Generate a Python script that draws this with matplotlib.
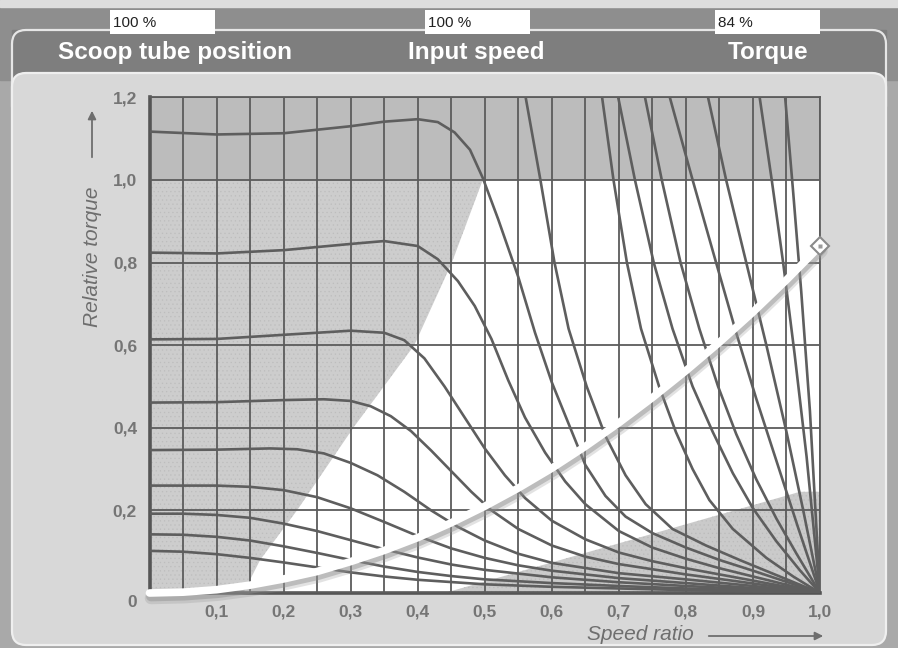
import numpy as np
import matplotlib
matplotlib.use("Agg")
import matplotlib.pyplot as plt
import matplotlib.transforms as mtransforms
from matplotlib.patches import Rectangle, FancyBboxPatch, Polygon

# header read-outs
header_labels = ["Scoop tube position", "Input speed", "Torque"]
header_values = ["100 %", "100 %", "84 %"]

x_ticks = [0.1, 0.2, 0.3, 0.4, 0.5, 0.6, 0.7, 0.8, 0.9, 1.0]
x_tick_labels = ["0,1", "0,2", "0,3", "0,4", "0,5", "0,6", "0,7", "0,8", "0,9", "1,0"]
y_ticks = [0, 0.2, 0.4, 0.6, 0.8, 1.0, 1.2]
y_tick_labels = ["0", "0,2", "0,4", "0,6", "0,8", "1,0", "1,2"]

# torque curves starting on the torque axis (low scoop fillings)
plateau_x = [
    [0, .1, .2, .3, .35, .40, .43, .455, .478, .497, .52, .55, .575, .60, .625, .65, .68, .71, .75, .80, .85, .90, .95, 1.0],
    [0, .1, .2, .3, .35, .40, .43, .46, .485, .51, .535, .56, .59, .62, .65, .70, .75, .80, .85, .90, .95, 1.0],
    [0, .1, .2, .3, .35, .38, .41, .44, .47, .50, .53, .56, .60, .65, .70, .75, .80, .85, .90, .95, 1.0],
    [0, .1, .2, .26, .30, .33, .36, .39, .42, .45, .48, .51, .55, .60, .65, .70, .80, .90, .95, 1.0],
    [0, .1, .18, .22, .26, .30, .34, .38, .42, .46, .50, .55, .60, .70, .80, .90, 1.0],
    [0, .1, .15, .2, .25, .30, .35, .40, .45, .50, .55, .60, .70, .80, .90, 1.0],
    [0, .05, .1, .15, .2, .25, .30, .35, .40, .45, .50, .60, .70, .80, .90, 1.0],
    [0, .05, .1, .15, .2, .25, .30, .35, .40, .45, .50, .60, .70, .80, .90, 1.0],
    [0, .05, .1, .15, .2, .25, .30, .35, .40, .50, .60, .70, .80, .90, 1.0],
]
plateau_y = [
    [1.117, 1.110, 1.113, 1.130, 1.141, 1.147, 1.140, 1.115, 1.073, 1.005, 0.905, 0.765, 0.63, 0.51, 0.41, 0.31, 0.235, 0.185, 0.145, 0.11, 0.08, 0.054, 0.027, 0],
    [0.824, 0.822, 0.830, 0.845, 0.852, 0.840, 0.808, 0.755, 0.695, 0.615, 0.515, 0.425, 0.34, 0.27, 0.215, 0.15, 0.11, 0.083, 0.06, 0.04, 0.02, 0],
    [0.614, 0.615, 0.625, 0.635, 0.630, 0.612, 0.568, 0.50, 0.425, 0.35, 0.285, 0.23, 0.175, 0.13, 0.098, 0.077, 0.06, 0.045, 0.03, 0.015, 0],
    [0.461, 0.462, 0.467, 0.469, 0.465, 0.452, 0.428, 0.392, 0.345, 0.295, 0.245, 0.20, 0.155, 0.115, 0.088, 0.07, 0.045, 0.023, 0.012, 0],
    [0.346, 0.347, 0.350, 0.348, 0.338, 0.315, 0.285, 0.245, 0.20, 0.16, 0.127, 0.095, 0.073, 0.048, 0.033, 0.017, 0],
    [0.260, 0.260, 0.257, 0.249, 0.232, 0.205, 0.172, 0.138, 0.108, 0.085, 0.067, 0.054, 0.036, 0.024, 0.012, 0],
    [0.192, 0.192, 0.189, 0.182, 0.168, 0.150, 0.128, 0.106, 0.086, 0.069, 0.056, 0.038, 0.026, 0.017, 0.009, 0],
    [0.142, 0.141, 0.136, 0.127, 0.113, 0.097, 0.080, 0.064, 0.051, 0.041, 0.033, 0.024, 0.017, 0.011, 0.006, 0],
    [0.102, 0.100, 0.094, 0.085, 0.074, 0.062, 0.050, 0.040, 0.032, 0.021, 0.015, 0.011, 0.007, 0.004, 0],
]

# torque curves coming in over the top of the chart (high scoop fillings)
steep_x = [
    [0.561, 0.583, 0.604, 0.625, 0.652, 0.68, 0.71, 0.74, 0.78, 0.83, 0.88, 0.94, 1.0],
    [0.675, 0.692, 0.712, 0.733, 0.76, 0.785, 0.81, 0.835, 0.87, 0.92, 0.96, 1.0],
    [0.699, 0.724, 0.752, 0.78, 0.81, 0.84, 0.87, 0.90, 0.935, 0.97, 1.0],
    [0.739, 0.764, 0.792, 0.82, 0.848, 0.875, 0.905, 0.935, 0.965, 1.0],
    [0.776, 0.81, 0.845, 0.875, 0.905, 0.935, 0.967, 1.0],
    [0.833, 0.86, 0.89, 0.92, 0.95, 0.975, 1.0],
    [0.91, 0.928, 0.945, 0.962, 0.98, 1.0],
    [0.948, 0.96, 0.972, 0.985, 1.0],
]
steep_y = [
    [1.2, 1.0, 0.8, 0.64, 0.5, 0.38, 0.285, 0.215, 0.155, 0.115, 0.08, 0.04, 0],
    [1.2, 1.0, 0.8, 0.64, 0.5, 0.39, 0.30, 0.225, 0.155, 0.085, 0.04, 0],
    [1.2, 1.0, 0.8, 0.64, 0.5, 0.39, 0.29, 0.205, 0.125, 0.055, 0],
    [1.2, 1.0, 0.8, 0.64, 0.5, 0.385, 0.275, 0.18, 0.095, 0],
    [1.2, 1.0, 0.8, 0.63, 0.47, 0.32, 0.16, 0],
    [1.2, 1.0, 0.8, 0.6, 0.39, 0.2, 0],
    [1.2, 1.0, 0.8, 0.58, 0.33, 0],
    [1.2, 0.97, 0.73, 0.44, 0],
]

# load (machine) curve and current operating point
load_x = [0, .05, .1, .15, .2, .25, .3, .35, .4, .45, .5, .55, .6, .65, .7, .75, .8, .85, .9, .95, 1.0]
load_y = [0, .002, .008, .019, .034, .052, .076, .103, .134, .170, .210, .254, .302, .355, .412, .473, .538, .607, .680, .758, .840]
op_x, op_y = 1.0, 0.84

# shaded zones
left_zone_x = [0, 0, 0.497, 0.451, 0.395, 0.304, 0.22, 0.165, 0.14]
left_zone_y = [0, 1.0, 1.0, 0.8, 0.6, 0.4, 0.2, 0.08, 0]
right_zone_x = [0.44, 0.97, 1.0, 1.0]
right_zone_y = [0, 0.245, 0.245, 0]

W, H = 898, 648
plt.rcParams["hatch.linewidth"] = 0.4
fig = plt.figure(figsize=(W / 100, H / 100), dpi=100)
fig.patch.set_facecolor("#a9a9a9")

# background, header and panel drawn in pixel coordinates
bg = fig.add_axes([0, 0, 1, 1])
bg.set_xlim(0, W)
bg.set_ylim(H, 0)
bg.axis("off")
bg.add_patch(Rectangle((0, 0), W, 80, color="#8e8e8e", zorder=0))
bg.add_patch(Rectangle((12, 30), W - 24, 50, color="#7e7e7e", zorder=0.5))
bg.add_patch(Rectangle((0, 0), W, 7, color="#dedede", zorder=0.6))
bg.add_patch(FancyBboxPatch((12, 30), W - 24, 90, boxstyle="round,pad=0,rounding_size=14",
                            facecolor="none", edgecolor="#e6e6e6", lw=1.6, zorder=1))
bg.add_patch(FancyBboxPatch((12, 73), W - 24, H - 76, boxstyle="round,pad=0,rounding_size=14",
                            facecolor="#d8d8d8", edgecolor="#efefef", lw=1.6, zorder=2))

box_left = [110, 425, 715]
label_cx = [174.5, 476, 768.5]
for bx, val in zip(box_left, header_values):
    bg.add_patch(Rectangle((bx, 10), 105, 24, facecolor="white", edgecolor="none", zorder=3))
    bg.text(bx + 3, 23, val, ha="left", va="center", fontsize=11, color="#222222",
            family=["Liberation Sans", "DejaVu Sans"], zorder=4)
for cx, lab in zip(label_cx, header_labels):
    bg.text(cx, 53, lab, ha="center", va="center", fontsize=17.5, fontweight="bold",
            color="white", family=["Liberation Sans Narrow", "Liberation Sans", "DejaVu Sans"],
            zorder=4)

# axis captions with arrows
cap_font = dict(style="italic", color="#6e6e6e", fontsize=15,
                family=["Liberation Sans", "DejaVu Sans"], zorder=4)
bg.text(92, 257, "Relative torque", rotation=90, ha="center", va="center", **cap_font)
bg.annotate("", xy=(92, 108), xytext=(92, 160),
            arrowprops=dict(arrowstyle="-|>", color="#6e6e6e", lw=1.3, mutation_scale=12), zorder=4)
bg.text(640, 634, "Speed ratio", ha="center", va="center", **cap_font)
bg.annotate("", xy=(826, 636), xytext=(706, 636),
            arrowprops=dict(arrowstyle="-|>", color="#6e6e6e", lw=1.3, mutation_scale=12), zorder=4)

# chart
ax = fig.add_axes([149.5 / W, (H - 593) / H, 670.5 / W, 495.7 / H])
ax.set_xlim(0, 1.0)
ax.set_ylim(0, 1.2)
ax.set_facecolor("white")

ax.add_patch(Polygon(np.column_stack([left_zone_x, left_zone_y]), closed=True,
                     facecolor="#cdcdcd", edgecolor="#bdbdbd", lw=0, hatch="....", zorder=0.5))
ax.add_patch(Polygon(np.column_stack([right_zone_x, right_zone_y]), closed=True,
                     facecolor="#cacaca", edgecolor="#bbbbbb", lw=0, hatch="....", zorder=0.5))
ax.axhspan(1.0, 1.2, facecolor="#bcbcbc", edgecolor="none", zorder=0.6)

ax.set_xticks(x_ticks)
ax.set_xticklabels(x_tick_labels)
ax.set_xticks(np.arange(0.05, 1.0, 0.1), minor=True)
ax.set_yticks(y_ticks)
ax.set_yticklabels(y_tick_labels)
ax.grid(which="both", color="#5c5c5c", lw=1.3, zorder=1)
ax.set_axisbelow(False)
ax.tick_params(which="both", length=0, labelsize=12.5, labelcolor="#757575")
ax.tick_params(axis="x", pad=8)
ax.tick_params(axis="y", pad=9)
for lab in ax.get_xticklabels() + ax.get_yticklabels():
    lab.set_fontweight("bold")
    lab.set_family(["Liberation Sans", "DejaVu Sans"])
# the zero label sits a little below the axis line in the original
ax.get_yticklabels()[0].set_y(-0.02)
ax.get_yticklabels()[0].set_transform(ax.get_yaxis_text1_transform(9)[0] +
                                      mtransforms.ScaledTranslation(0, -8 / 100, fig.dpi_scale_trans))

for sp in ["top", "right"]:
    ax.spines[sp].set_color("#5c5c5c")
    ax.spines[sp].set_linewidth(1.3)
for sp in ["left", "bottom"]:
    ax.spines[sp].set_color("#555555")
    ax.spines[sp].set_linewidth(2.6)

curve_color = "#5e5e5e"
for xs, ys in zip(plateau_x, plateau_y):
    ax.plot(xs, ys, color=curve_color, lw=1.9, zorder=3, solid_capstyle="round")
for xs, ys in zip(steep_x, steep_y):
    ax.plot(xs, ys, color=curve_color, lw=1.9, zorder=3, solid_capstyle="round")

# load curve: white tube with a soft shadow underneath
for dy, lw, a in [(-5, 9, 0.25), (-3.5, 7, 0.45)]:
    shadow = mtransforms.offset_copy(ax.transData, fig=fig, x=1.5, y=dy, units="dots")
    ax.plot(load_x, load_y, color="#8f8f8f", lw=lw, alpha=a, transform=shadow, zorder=4,
            solid_capstyle="round", clip_on=False)
ax.plot(load_x, load_y, color="white", lw=5.5, zorder=5, solid_capstyle="round", clip_on=False)
ax.plot([op_x], [op_y], marker="D", ms=9, mfc="white", mec="#8a8a8a", mew=1.5,
        zorder=6, clip_on=False)
ax.plot([op_x], [op_y], marker="s", ms=3, mfc="#9a9a9a", mec="none", zorder=7, clip_on=False)

fig.savefig("out.png", dpi=100, facecolor=fig.get_facecolor())
